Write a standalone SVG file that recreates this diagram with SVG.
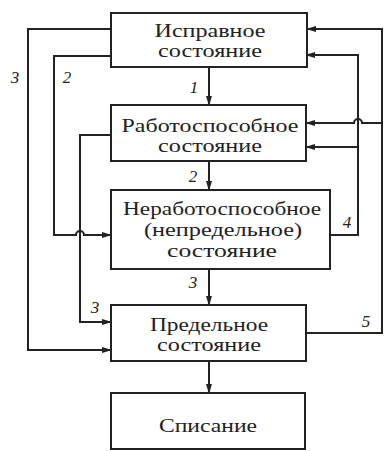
<svg xmlns="http://www.w3.org/2000/svg" width="384" height="451" viewBox="0 0 384 451">
<defs>
<marker id="ah" markerWidth="10" markerHeight="8" refX="9" refY="4" orient="auto" markerUnits="userSpaceOnUse">
<path d="M0,1 L10,4 L0,7 Z" fill="#222"/>
</marker>
<style>
.box{fill:#fff;stroke:#222;stroke-width:2}
.t{font-family:'Liberation Serif','DejaVu Serif',serif;font-size:19px;fill:#222;text-anchor:middle}
.n{font-family:'Liberation Serif','DejaVu Serif',serif;font-size:17px;font-style:italic;fill:#222;text-anchor:middle}
.c{fill:none;stroke:#222;stroke-width:2}
</style>
</defs>
<rect width="384" height="451" fill="#fff"/>
<g id="connectors">
<path class="c" d="M209,67 V105" marker-end="url(#ah)"/>
<path class="c" d="M209,161 V190" marker-end="url(#ah)"/>
<path class="c" d="M209,269 V305" marker-end="url(#ah)"/>
<path class="c" d="M209,361 V393" marker-end="url(#ah)"/>
<path class="c" d="M111,29 H28 V350 H111" marker-end="url(#ah)"/>
<path class="c" d="M111,56 H54 V235 H76 A4,4 0 0 1 84,235 H111" marker-end="url(#ah)"/>
<path class="c" d="M111,135 H80 V322 H111" marker-end="url(#ah)"/>
<path class="c" d="M330,235 H358 V55 H306" marker-end="url(#ah)"/>
<path class="c" d="M358,147 H306" marker-end="url(#ah)"/>
<path class="c" d="M306,333 H382 V29 H307" marker-end="url(#ah)"/>
<path class="c" d="M382,123 H362 A4,4 0 0 0 354,123 H306" marker-end="url(#ah)"/>
<text class="n" x="15" y="83">3</text>
<text class="n" x="67" y="83">2</text>
<text class="n" x="194" y="93">1</text>
<text class="n" x="193" y="182">2</text>
<text class="n" x="193" y="288">3</text>
<text class="n" x="95" y="313">3</text>
<text class="n" x="347" y="228">4</text>
<text class="n" x="366" y="327">5</text>
</g>
<g id="node1">
<rect class="box" x="111" y="13" width="196" height="54"/>
<text class="t" x="210" y="37" textLength="111" lengthAdjust="spacingAndGlyphs">Исправное</text>
<text class="t" x="210" y="57" textLength="104" lengthAdjust="spacingAndGlyphs">состояние</text>
</g>
<g id="node2">
<rect class="box" x="111" y="105" width="195" height="56"/>
<text class="t" x="210" y="132" textLength="177" lengthAdjust="spacingAndGlyphs">Работоспособное</text>
<text class="t" x="210" y="152" textLength="104" lengthAdjust="spacingAndGlyphs">состояние</text>
</g>
<g id="node3">
<rect class="box" x="111" y="190" width="219" height="79"/>
<text class="t" x="222" y="215" textLength="198" lengthAdjust="spacingAndGlyphs">Неработоспособное</text>
<text class="t" x="223" y="236" textLength="158" lengthAdjust="spacingAndGlyphs">(непредельное)</text>
<text class="t" x="222" y="257" textLength="110" lengthAdjust="spacingAndGlyphs">состояние</text>
</g>
<g id="node4">
<rect class="box" x="111" y="305" width="195" height="56"/>
<text class="t" x="209" y="331" textLength="118" lengthAdjust="spacingAndGlyphs">Предельное</text>
<text class="t" x="209" y="351" textLength="104" lengthAdjust="spacingAndGlyphs">состояние</text>
</g>
<g id="node5">
<rect class="box" x="111" y="393" width="194" height="56"/>
<text class="t" x="208" y="432" textLength="98" lengthAdjust="spacingAndGlyphs">Списание</text>
</g>
</svg>
